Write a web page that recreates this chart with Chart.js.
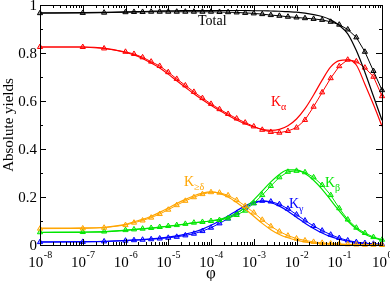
<!DOCTYPE html>
<html>
<head>
<meta charset="utf-8">
<script src="https://cdn.jsdelivr.net/npm/chart.js@4/dist/chart.umd.min.js"></script>
<style>
  html, body { margin: 0; padding: 0; background: #fff; }
  #wrap { width: 390px; height: 281px; position: relative; }
</style>
</head>
<body>
<div id="wrap"><canvas id="yieldChart"></canvas></div>
<script>
// phi sample points (log spaced)
const phi = [1e-8, 1e-7, 3.16e-7,
  1e-6, 1.58e-6, 2.51e-6, 3.98e-6, 6.31e-6,
  1e-5, 1.58e-5, 2.51e-5, 3.98e-5, 6.31e-5,
  1e-4, 1.58e-4, 2.51e-4, 3.98e-4, 6.31e-4,
  1e-3, 1.58e-3, 2.51e-3, 3.98e-3, 6.31e-3,
  1e-2, 1.58e-2, 2.51e-2, 3.98e-2, 6.31e-2,
  0.1, 0.158, 0.251, 0.398, 0.631, 1];

// solid curves
const totalCalc = [0.967, 0.968, 0.969, 0.971, 0.972, 0.973, 0.974, 0.975, 0.976, 0.976,
  0.977, 0.977, 0.977, 0.977, 0.977, 0.977, 0.977, 0.977, 0.976, 0.976,
  0.975, 0.974, 0.972, 0.970, 0.966, 0.960, 0.952, 0.938, 0.915, 0.880,
  0.810, 0.720, 0.620, 0.520];
const kaCalc = [0.825, 0.825, 0.820, 0.802, 0.792, 0.777, 0.758, 0.738, 0.712, 0.684,
  0.657, 0.630, 0.605, 0.582, 0.560, 0.540, 0.521, 0.505, 0.492, 0.482,
  0.478, 0.482, 0.497, 0.525, 0.568, 0.625, 0.687, 0.742, 0.768, 0.771,
  0.750, 0.670, 0.585, 0.495];
const kdCalc = [0.070, 0.071, 0.074, 0.086, 0.097, 0.107, 0.120, 0.136, 0.154, 0.173,
  0.190, 0.205, 0.216, 0.221, 0.215, 0.200, 0.177, 0.150, 0.120, 0.090,
  0.064, 0.044, 0.030, 0.020, 0.013, 0.009, 0.006, 0.004, 0.003, 0.002,
  0.001, 0.001, 0.000, 0.000];
const kbCalc = [0.052, 0.053, 0.055, 0.061, 0.064, 0.067, 0.070, 0.074, 0.078, 0.082,
  0.087, 0.092, 0.096, 0.101, 0.107, 0.117, 0.133, 0.156, 0.188, 0.225,
  0.263, 0.294, 0.313, 0.313, 0.298, 0.270, 0.232, 0.187, 0.142, 0.100,
  0.068, 0.045, 0.030, 0.020];
const kgCalc = [0.013, 0.014, 0.015, 0.019, 0.021, 0.023, 0.026, 0.029, 0.033, 0.038,
  0.045, 0.054, 0.066, 0.082, 0.100, 0.121, 0.143, 0.163, 0.178, 0.183,
  0.177, 0.162, 0.141, 0.116, 0.091, 0.069, 0.050, 0.035, 0.024, 0.016,
  0.010, 0.006, 0.004, 0.002];

// triangle series
const totalExp = [0.966, 0.967, 0.968, 0.970, 0.971, 0.971, 0.972, 0.972, 0.972, 0.972,
  0.972, 0.972, 0.972, 0.972, 0.971, 0.970, 0.969, 0.967, 0.965, 0.962,
  0.958, 0.955, 0.951, 0.948, 0.945, 0.942, 0.938, 0.930, 0.918, 0.898,
  0.865, 0.805, 0.725, 0.645];
const kaExp = [0.825, 0.825, 0.819, 0.805, 0.796, 0.782, 0.764, 0.746, 0.720, 0.692,
  0.665, 0.638, 0.612, 0.588, 0.566, 0.546, 0.527, 0.510, 0.494, 0.480,
  0.471, 0.468, 0.475, 0.489, 0.521, 0.576, 0.636, 0.695, 0.745, 0.772,
  0.765, 0.739, 0.701, 0.620];
const kdExp = [0.068, 0.069, 0.072, 0.083, 0.093, 0.102, 0.114, 0.129, 0.147, 0.166,
  0.184, 0.199, 0.212, 0.220, 0.218, 0.207, 0.187, 0.163, 0.135, 0.105,
  0.078, 0.056, 0.039, 0.027, 0.019, 0.013, 0.009, 0.006, 0.004, 0.003,
  0.002, 0.001, 0.001, 0.000];
const kbExp = [0.053, 0.054, 0.056, 0.062, 0.065, 0.068, 0.071, 0.075, 0.079, 0.083,
  0.088, 0.093, 0.096, 0.100, 0.104, 0.111, 0.125, 0.143, 0.174, 0.208,
  0.246, 0.282, 0.305, 0.309, 0.303, 0.282, 0.250, 0.208, 0.153, 0.106,
  0.072, 0.050, 0.033, 0.022];
const kgExp = [0.012, 0.013, 0.015, 0.018, 0.020, 0.022, 0.024, 0.027, 0.030, 0.034,
  0.040, 0.047, 0.058, 0.072, 0.090, 0.110, 0.132, 0.155, 0.174, 0.184,
  0.181, 0.170, 0.151, 0.127, 0.102, 0.079, 0.060, 0.043, 0.029, 0.019,
  0.012, 0.008, 0.005, 0.003];

const xExponents = [-8, -7, -6, -5, -4, -3, -2, -1, 0];
const yTicks = [0, 0.2, 0.4, 0.6, 0.8, 1];
const yTickLabels = ['0', '0.2', '0.4', '0.6', '0.8', '1'];

const COLORS = {
  total: '#000000',
  ka: '#ff0000',
  kd: '#ffa500',
  kb: '#00e600',
  kg: '#0000ff'
};

function pts(values) {
  return phi.map((p, i) => ({ x: p, y: values[i] }));
}

function calcSet(values, color) {
  return {
    data: pts(values),
    borderColor: color,
    borderWidth: 1.2,
    pointRadius: 0,
    cubicInterpolationMode: 'monotone',
    fill: false,
    clip: false
  };
}

function expSet(values, color, fillColor) {
  return {
    data: pts(values),
    borderColor: color,
    borderWidth: 1,
    pointStyle: 'triangle',
    pointRadius: 3,
    pointBorderWidth: 1,
    pointBorderColor: color,
    pointBackgroundColor: fillColor,
    tension: 0,
    fill: false,
    clip: false
  };
}

const SERIF = '"Liberation Serif", "DejaVu Serif", serif';

const framePlugin = {
  id: 'frame',
  afterDatasetsDraw(chart) {
    const { ctx, chartArea: a, scales: { x, y } } = chart;
    ctx.save();
    ctx.strokeStyle = '#000';
    ctx.lineWidth = 1;
    ctx.strokeRect(a.left + 0.5, a.top + 0.5, a.right - a.left, a.bottom - a.top);

    ctx.beginPath();
    // x ticks (inward, bottom + top)
    xExponents.forEach(e => {
      const px = Math.round(x.getPixelForValue(Math.pow(10, e))) + 0.5;
      ctx.moveTo(px, a.bottom); ctx.lineTo(px, a.bottom - 6);
      ctx.moveTo(px, a.top); ctx.lineTo(px, a.top + 6);
      if (e < 0) {
        for (let m = 2; m <= 9; m++) {
          const mx = Math.round(x.getPixelForValue(m * Math.pow(10, e))) + 0.5;
          ctx.moveTo(mx, a.bottom); ctx.lineTo(mx, a.bottom - 3);
          ctx.moveTo(mx, a.top); ctx.lineTo(mx, a.top + 3);
        }
      }
    });
    // y ticks (inward, left + right)
    for (let k = 0; k <= 10; k++) {
      const py = Math.round(y.getPixelForValue(k / 10)) + 0.5;
      const len = k % 2 === 0 ? 6 : 3;
      ctx.moveTo(a.left, py); ctx.lineTo(a.left + len, py);
      ctx.moveTo(a.right, py); ctx.lineTo(a.right - len, py);
    }
    ctx.stroke();

    ctx.fillStyle = '#000';
    // y tick labels
    ctx.font = '15px ' + SERIF;
    ctx.textAlign = 'right';
    ctx.textBaseline = 'middle';
    yTicks.forEach((v, i) => {
      ctx.fillText(yTickLabels[i], a.left - 3, y.getPixelForValue(v) + 1);
    });

    // x tick labels 10^e
    ctx.textAlign = 'left';
    ctx.textBaseline = 'alphabetic';
    xExponents.forEach(e => {
      const px = x.getPixelForValue(Math.pow(10, e));
      const base = '10', sup = String(e);
      ctx.font = '15px ' + SERIF;
      const w1 = ctx.measureText(base).width;
      ctx.font = '10px ' + SERIF;
      const w2 = ctx.measureText(sup).width;
      const start = px - (w1 + w2) / 2;
      ctx.font = '15px ' + SERIF;
      ctx.fillText(base, start, a.bottom + 22);
      ctx.font = '10px ' + SERIF;
      ctx.fillText(sup, start + w1 + 0.5, a.bottom + 13);
    });

    // axis titles
    ctx.font = '15px ' + SERIF;
    ctx.textAlign = 'center';
    ctx.textBaseline = 'middle';
    ctx.save();
    ctx.translate(9, (a.top + a.bottom) / 2);
    ctx.rotate(-Math.PI / 2);
    ctx.fillText('Absolute yields', 0, 0);
    ctx.restore();
    ctx.font = '17px ' + SERIF;
    ctx.fillText('φ', (a.left + a.right) / 2, a.bottom + 29);

    // series labels
    ctx.textAlign = 'left';
    ctx.textBaseline = 'alphabetic';
    ctx.font = '14px ' + SERIF;
    ctx.fillStyle = COLORS.total;
    ctx.fillText('Total', 198, 25);

    const drawK = (left, base, color, sub) => {
      ctx.fillStyle = color;
      ctx.font = '14px ' + SERIF;
      ctx.fillText('K', left, base);
      const w = ctx.measureText('K').width;
      ctx.font = '10px ' + SERIF;
      ctx.fillText(sub, left + w, base + 4);
    };
    drawK(271, 106, COLORS.ka, 'α');
    drawK(184, 186, COLORS.kd, '≥δ');
    drawK(325, 187, COLORS.kb, 'β');
    drawK(289, 208, COLORS.kg, 'γ');
    ctx.restore();
  }
};

new Chart(document.getElementById('yieldChart'), {
  type: 'line',
  data: {
    datasets: [
      calcSet(totalCalc, COLORS.total),
      expSet(totalExp, COLORS.total, 'rgba(0,0,0,0.35)'),
      calcSet(kaCalc, COLORS.ka),
      expSet(kaExp, COLORS.ka, 'rgba(255,0,0,0.25)'),
      calcSet(kdCalc, COLORS.kd),
      expSet(kdExp, COLORS.kd, 'rgba(255,165,0,0.25)'),
      calcSet(kbCalc, COLORS.kb),
      expSet(kbExp, COLORS.kb, 'rgba(0,230,0,0.35)'),
      calcSet(kgCalc, COLORS.kg),
      expSet(kgExp, COLORS.kg, 'rgba(0,0,255,0.35)')
    ]
  },
  options: {
    responsive: true,
    maintainAspectRatio: false,
    animation: false,
    layout: { padding: { left: 40, right: 8, top: 5, bottom: 36 } },
    scales: {
      x: { type: 'logarithmic', min: 1e-8, max: 1, display: false },
      y: { type: 'linear', min: 0, max: 1, display: false }
    },
    plugins: {
      legend: { display: false },
      tooltip: { enabled: false }
    }
  },
  plugins: [framePlugin]
});
</script>
</body>
</html>
